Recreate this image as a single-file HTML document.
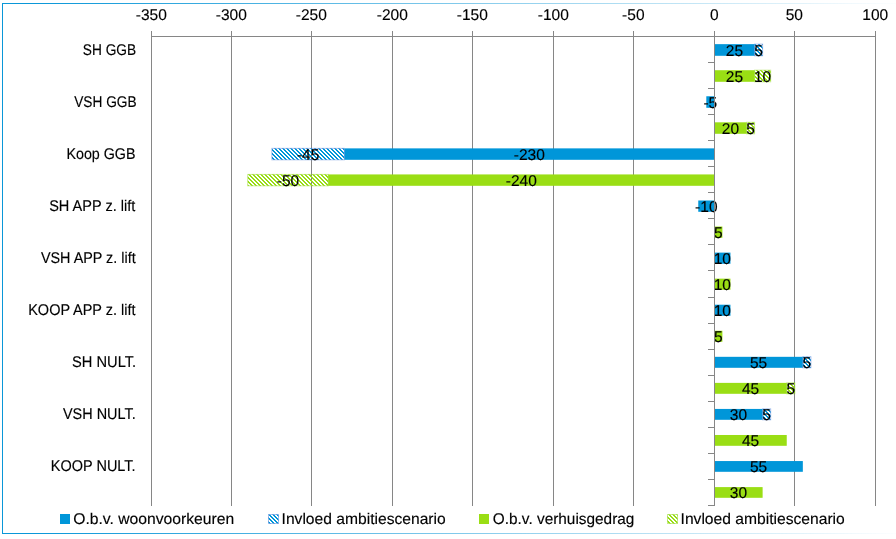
<!DOCTYPE html><html><head><meta charset="utf-8"><style>html,body{margin:0;padding:0;background:#fff;}svg{display:block;will-change:transform;}text{font-family:"Liberation Sans",sans-serif;font-size:15.5px;fill:#000;text-rendering:geometricPrecision;stroke:#000;stroke-width:0.15px;}</style></head><body>
<svg width="896" height="539" viewBox="0 0 896 539" shape-rendering="crispEdges">
<defs>
<linearGradient id="bg" x1="30" y1="0" x2="905" y2="0" gradientUnits="userSpaceOnUse"><stop offset="0" stop-color="#0a97d8" stop-opacity="1"/><stop offset="1" stop-color="#0a97d8" stop-opacity="0"/></linearGradient>
<pattern id="hb" x="0" y="0" width="4" height="4" patternUnits="userSpaceOnUse">
<rect x="2" y="0" width="1" height="1" fill="#0096d9"/>
<rect x="3" y="0" width="1" height="1" fill="#0096d9"/>
<rect x="0" y="1" width="1" height="1" fill="#0096d9"/>
<rect x="3" y="1" width="1" height="1" fill="#0096d9"/>
<rect x="0" y="2" width="1" height="1" fill="#0096d9"/>
<rect x="1" y="2" width="1" height="1" fill="#0096d9"/>
<rect x="1" y="3" width="1" height="1" fill="#0096d9"/>
<rect x="2" y="3" width="1" height="1" fill="#0096d9"/>
</pattern>
<pattern id="hg" x="0" y="0" width="4" height="4" patternUnits="userSpaceOnUse">
<rect x="2" y="0" width="1" height="1" fill="#9ade14"/>
<rect x="3" y="0" width="1" height="1" fill="#9ade14"/>
<rect x="0" y="1" width="1" height="1" fill="#9ade14"/>
<rect x="3" y="1" width="1" height="1" fill="#9ade14"/>
<rect x="0" y="2" width="1" height="1" fill="#9ade14"/>
<rect x="1" y="2" width="1" height="1" fill="#9ade14"/>
<rect x="1" y="3" width="1" height="1" fill="#9ade14"/>
<rect x="2" y="3" width="1" height="1" fill="#9ade14"/>
</pattern>
</defs>
<rect x="2" y="3" width="1" height="531" fill="#0a97d8"/>
<rect x="2" y="3" width="894" height="1" fill="url(#bg)"/>
<rect x="2" y="533" width="894" height="1" fill="url(#bg)"/>
<rect x="151" y="31" width="1" height="475" fill="#868686"/>
<rect x="231" y="31" width="1" height="475" fill="#868686"/>
<rect x="311" y="31" width="1" height="475" fill="#868686"/>
<rect x="392" y="31" width="1" height="475" fill="#868686"/>
<rect x="472" y="31" width="1" height="475" fill="#868686"/>
<rect x="553" y="31" width="1" height="475" fill="#868686"/>
<rect x="633" y="31" width="1" height="475" fill="#868686"/>
<rect x="714" y="31" width="1" height="475" fill="#868686"/>
<rect x="794" y="31" width="1" height="475" fill="#868686"/>
<rect x="875" y="31" width="1" height="475" fill="#868686"/>
<rect x="151" y="36" width="725" height="1" fill="#868686"/>
<rect x="714.35" y="44.15" width="40.22" height="11.65" fill="#0096d9" shape-rendering="auto"/>
<rect x="754.57" y="44.15" width="8.04" height="11.65" fill="url(#hb)" stroke="#4f7fd8" stroke-opacity="0.5" stroke-width="1" shape-rendering="auto"/>
<rect x="714.35" y="70.21" width="40.22" height="11.59" fill="#9ade14" shape-rendering="auto"/>
<rect x="754.57" y="70.21" width="16.09" height="11.59" fill="url(#hg)" stroke="#8fd620" stroke-opacity="0.5" stroke-width="1" shape-rendering="auto"/>
<rect x="706.31" y="96.26" width="8.04" height="11.54" fill="#0096d9" shape-rendering="auto"/>
<rect x="714.35" y="122.32" width="32.18" height="11.48" fill="#9ade14" shape-rendering="auto"/>
<rect x="746.53" y="122.32" width="8.04" height="11.48" fill="url(#hg)" stroke="#8fd620" stroke-opacity="0.5" stroke-width="1" shape-rendering="auto"/>
<rect x="344.31" y="148.37" width="370.04" height="11.43" fill="#0096d9" shape-rendering="auto"/>
<rect x="271.91" y="148.37" width="72.40" height="11.43" fill="url(#hb)" stroke="#4f7fd8" stroke-opacity="0.5" stroke-width="1" shape-rendering="auto"/>
<rect x="328.22" y="174.43" width="386.13" height="11.37" fill="#9ade14" shape-rendering="auto"/>
<rect x="247.78" y="174.43" width="80.44" height="11.37" fill="url(#hg)" stroke="#8fd620" stroke-opacity="0.5" stroke-width="1" shape-rendering="auto"/>
<rect x="698.26" y="200.49" width="16.09" height="11.31" fill="#0096d9" shape-rendering="auto"/>
<rect x="714.35" y="226.54" width="8.04" height="11.26" fill="#9ade14" shape-rendering="auto"/>
<rect x="714.35" y="252.60" width="16.09" height="11.20" fill="#0096d9" shape-rendering="auto"/>
<rect x="714.35" y="278.65" width="16.09" height="11.15" fill="#9ade14" shape-rendering="auto"/>
<rect x="714.35" y="304.71" width="16.09" height="11.09" fill="#0096d9" shape-rendering="auto"/>
<rect x="714.35" y="330.77" width="8.04" height="11.03" fill="#9ade14" shape-rendering="auto"/>
<rect x="714.35" y="356.82" width="88.49" height="10.98" fill="#0096d9" shape-rendering="auto"/>
<rect x="802.84" y="356.82" width="8.04" height="10.98" fill="url(#hb)" stroke="#4f7fd8" stroke-opacity="0.5" stroke-width="1" shape-rendering="auto"/>
<rect x="714.35" y="382.88" width="72.40" height="10.92" fill="#9ade14" shape-rendering="auto"/>
<rect x="786.75" y="382.88" width="8.04" height="10.92" fill="url(#hg)" stroke="#8fd620" stroke-opacity="0.5" stroke-width="1" shape-rendering="auto"/>
<rect x="714.35" y="408.93" width="48.27" height="10.87" fill="#0096d9" shape-rendering="auto"/>
<rect x="762.62" y="408.93" width="8.04" height="10.87" fill="url(#hb)" stroke="#4f7fd8" stroke-opacity="0.5" stroke-width="1" shape-rendering="auto"/>
<rect x="714.35" y="434.99" width="72.40" height="10.81" fill="#9ade14" shape-rendering="auto"/>
<rect x="714.35" y="461.05" width="88.49" height="10.75" fill="#0096d9" shape-rendering="auto"/>
<rect x="714.35" y="487.10" width="48.27" height="10.70" fill="#9ade14" shape-rendering="auto"/>
<rect x="708" y="62" width="6" height="1" fill="#868686"/>
<rect x="708" y="88" width="6" height="1" fill="#868686"/>
<rect x="708" y="114" width="6" height="1" fill="#868686"/>
<rect x="708" y="140" width="6" height="1" fill="#868686"/>
<rect x="708" y="166" width="6" height="1" fill="#868686"/>
<rect x="708" y="192" width="6" height="1" fill="#868686"/>
<rect x="708" y="218" width="6" height="1" fill="#868686"/>
<rect x="708" y="244" width="6" height="1" fill="#868686"/>
<rect x="708" y="270" width="6" height="1" fill="#868686"/>
<rect x="708" y="297" width="6" height="1" fill="#868686"/>
<rect x="708" y="323" width="6" height="1" fill="#868686"/>
<rect x="708" y="349" width="6" height="1" fill="#868686"/>
<rect x="708" y="375" width="6" height="1" fill="#868686"/>
<rect x="708" y="401" width="6" height="1" fill="#868686"/>
<rect x="708" y="427" width="6" height="1" fill="#868686"/>
<rect x="708" y="453" width="6" height="1" fill="#868686"/>
<rect x="708" y="479" width="6" height="1" fill="#868686"/>
<rect x="708" y="505" width="6" height="1" fill="#868686"/>
<text x="734.46" y="55.75" text-anchor="middle">25</text>
<text x="758.59" y="55.75" text-anchor="middle">5</text>
<text x="734.46" y="81.75" text-anchor="middle">25</text>
<text x="762.62" y="81.75" text-anchor="middle">10</text>
<text x="710.33" y="107.75" text-anchor="middle">-5</text>
<text x="730.44" y="133.75" text-anchor="middle">20</text>
<text x="750.55" y="133.75" text-anchor="middle">5</text>
<text x="529.33" y="159.75" text-anchor="middle">-230</text>
<text x="308.11" y="159.75" text-anchor="middle">-45</text>
<text x="521.29" y="185.75" text-anchor="middle">-240</text>
<text x="288.00" y="185.75" text-anchor="middle">-50</text>
<text x="706.31" y="211.75" text-anchor="middle">-10</text>
<text x="718.37" y="237.75" text-anchor="middle">5</text>
<text x="722.39" y="263.75" text-anchor="middle">10</text>
<text x="722.39" y="289.75" text-anchor="middle">10</text>
<text x="722.39" y="315.75" text-anchor="middle">10</text>
<text x="718.37" y="341.75" text-anchor="middle">5</text>
<text x="758.59" y="367.75" text-anchor="middle">55</text>
<text x="806.86" y="367.75" text-anchor="middle">5</text>
<text x="750.55" y="393.75" text-anchor="middle">45</text>
<text x="790.77" y="393.75" text-anchor="middle">5</text>
<text x="738.48" y="419.75" text-anchor="middle">30</text>
<text x="766.64" y="419.75" text-anchor="middle">5</text>
<text x="750.55" y="445.75" text-anchor="middle">45</text>
<text x="758.59" y="471.75" text-anchor="middle">55</text>
<text x="738.48" y="497.75" text-anchor="middle">30</text>
<rect x="714" y="36" width="1" height="470" fill="#868686"/>
<text x="151.30" y="20" text-anchor="middle">-350</text>
<text x="231.30" y="20" text-anchor="middle">-300</text>
<text x="311.30" y="20" text-anchor="middle">-250</text>
<text x="392.30" y="20" text-anchor="middle">-200</text>
<text x="472.30" y="20" text-anchor="middle">-150</text>
<text x="553.30" y="20" text-anchor="middle">-100</text>
<text x="633.30" y="20" text-anchor="middle">-50</text>
<text x="714.30" y="20" text-anchor="middle">0</text>
<text x="794.30" y="20" text-anchor="middle">50</text>
<text x="875.30" y="20" text-anchor="middle">100</text>
<text transform="translate(82.803 55.228) scale(0.8835 1)">SH GGB</text>
<text transform="translate(74.223 106.539) scale(0.8825 1)">VSH GGB</text>
<text transform="translate(66.418 158.650) scale(0.9218 1)">Koop GGB</text>
<text transform="translate(49.154 210.761) scale(0.9375 1)">SH APP z. lift</text>
<text transform="translate(40.904 262.872) scale(0.9267 1)">VSH APP z. lift</text>
<text transform="translate(28.201 314.983) scale(0.9348 1)">KOOP APP z. lift</text>
<text transform="translate(72.047 367.094) scale(0.9453 1)">SH NULT.</text>
<text transform="translate(63.002 419.206) scale(0.9305 1)">VSH NULT.</text>
<text transform="translate(50.853 471.317) scale(0.9336 1)">KOOP NULT.</text>
<rect x="60" y="514" width="10" height="10" fill="#0096d9"/>
<rect x="268.5" y="514.5" width="10" height="9" fill="url(#hb)" stroke="#4f7fd8" stroke-opacity="0.5" shape-rendering="auto"/>
<rect x="479" y="514" width="10" height="10" fill="#9ade14"/>
<rect x="667.5" y="514.5" width="10" height="9" fill="url(#hg)" stroke="#8fd620" stroke-opacity="0.5" shape-rendering="auto"/>
<text transform="translate(73.206 524.000) scale(1.0119 1)">O.b.v. woonvoorkeuren</text>
<text transform="translate(281.537 524.000) scale(1.0081 1)">Invloed ambitiescenario</text>
<text transform="translate(492.822 524.000) scale(0.9916 1)">O.b.v. verhuisgedrag</text>
<text transform="translate(680.536 524.000) scale(1.0087 1)">Invloed ambitiescenario</text>
</svg></body></html>
